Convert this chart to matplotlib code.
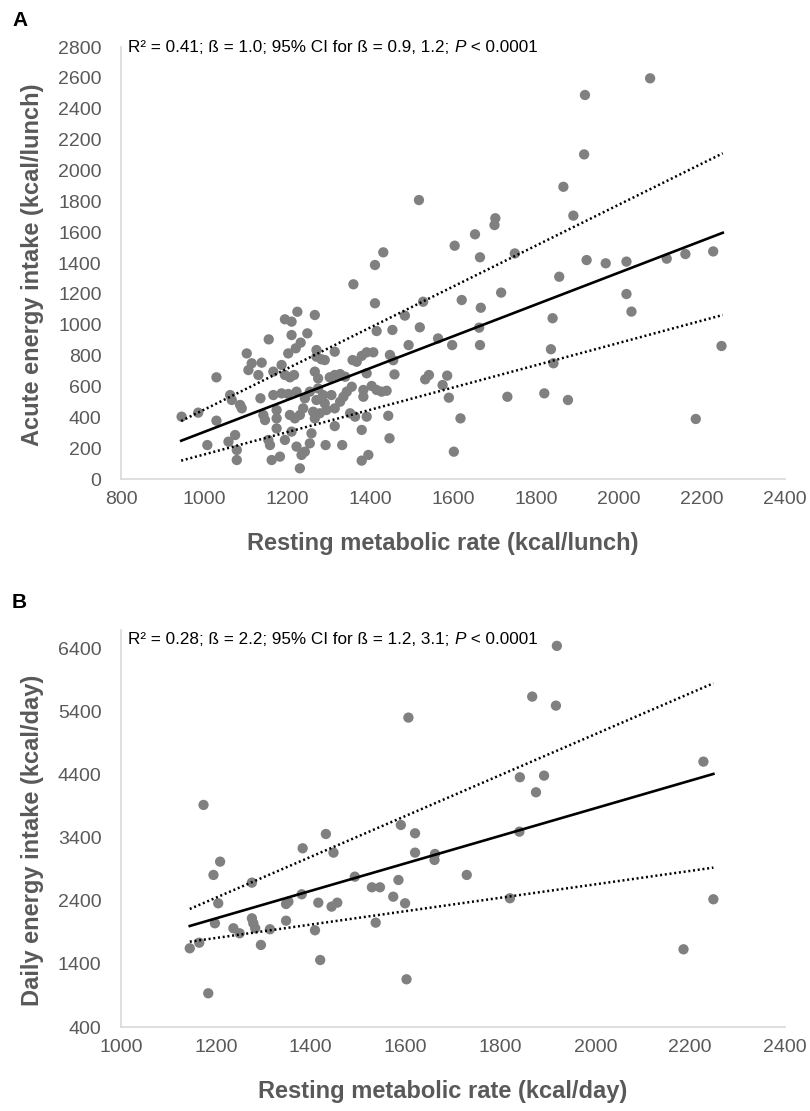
import matplotlib
matplotlib.use('Agg')
import matplotlib.pyplot as plt

plt.rcParams['font.family'] = ['Liberation Sans', 'DejaVu Sans']

# Panel A: resting metabolic rate vs acute energy intake (kcal/lunch)
rmr_lunch = [
    2075, 1918, 1916, 1866, 1890, 1702, 1700, 1653, 1604, 1665, 1749, 1922, 1968, 2018, 2115, 2160,
    2227, 1856, 1621, 1716, 1667, 2018, 2030, 1840, 1663, 1598, 1665, 1836, 1842, 1586, 1575, 1590,
    1731, 1820, 1877, 1618, 2185, 2247, 1602, 1518, 1432, 1412, 1360, 1412, 1528, 1484, 1520, 1454,
    1416, 1564, 1493, 1448, 1456, 1408, 1392, 1380, 1459, 1542, 1533, 1444, 1447, 1396, 1380,
    946, 986, 1030, 1030, 1008, 1063, 1067, 1087, 1091, 1059, 1075, 1079, 1079, 1103, 1115, 1139,
    1107, 1131, 1156, 1195, 1211, 1225, 1267, 1211, 1249, 1233, 1221, 1203, 1167, 1187, 1195, 1207,
    1217, 1136, 1167, 1187, 1203, 1143, 1147, 1175, 1175, 1175, 1155, 1159, 1163, 1183, 1195, 1211,
    1231, 1223, 1243, 1255, 1259, 1235, 1207, 1219, 1231, 1239, 1243, 1223, 1255, 1271, 1271, 1283,
    1291, 1315, 1267, 1275, 1275, 1271, 1263, 1279, 1267, 1291, 1307, 1287, 1295, 1315, 1328, 1336,
    1344, 1356, 1303, 1315, 1328, 1340, 1315, 1293, 1333, 1352, 1364, 1380, 1384, 1384, 1392, 1404,
    1416, 1428, 1440, 1358, 1368, 1392,
]
intake_lunch = [
    2597, 2489, 2104, 1894, 1707, 1690, 1646, 1586, 1512, 1437, 1462, 1419, 1398, 1409, 1428, 1458,
    1475, 1311, 1160, 1208, 1110, 1199, 1085, 1042, 981, 868, 868, 841, 750, 670, 609, 527,
    533, 555, 512, 393, 389, 862, 177, 1808, 1469, 1387, 1262, 1139, 1149, 1059, 983, 966,
    959, 911, 868, 804, 770, 821, 821, 798, 678, 674, 646, 410, 264, 156, 119,
    404, 430, 659, 378, 220, 544, 512, 480, 458, 242, 285, 188, 123, 814, 750, 754,
    706, 674, 905, 1035, 1020, 1084, 1063, 933, 944, 884, 847, 814, 696, 739, 674, 659,
    674, 523, 544, 555, 551, 415, 382, 447, 393, 328, 253, 220, 123, 145, 253, 307,
    69, 210, 177, 231, 296, 156, 415, 393, 415, 458, 523, 566, 566, 793, 836, 776,
    771, 825, 696, 652, 587, 512, 436, 426, 393, 490, 544, 544, 447, 458, 501, 533,
    566, 598, 659, 674, 680, 663, 343, 220, 220, 426, 404, 318, 577, 533, 404, 603,
    577, 566, 572, 771, 760, 685,
]
fit_a_x = [945, 2250]
fit_a_y = [248, 1596]
ci_a_upper = [376, 2111]
ci_a_lower = [119, 1063]

# Panel B: resting metabolic rate vs daily energy intake (kcal/day)
rmr_day = [
    1145, 1165, 1174, 1184, 1195, 1198, 1205, 1209, 1237, 1250, 1276, 1276, 1279, 1283, 1295, 1314,
    1348, 1348, 1353, 1381, 1383, 1409, 1416, 1420, 1432, 1444, 1448, 1456, 1493, 1529, 1537, 1546,
    1574, 1585, 1590, 1599, 1602, 1606, 1620, 1620, 1661, 1662, 1729, 1820, 1840, 1841, 1867, 1875,
    1892, 1917, 1919, 2186, 2228, 2249,
]
intake_day = [
    1649, 1738, 3924, 935, 2813, 2046, 2363, 3024, 1967, 1887, 2691, 2125, 2046, 1967, 1702, 1951,
    2087, 2352, 2389, 2506, 3236, 1935, 2373, 1463, 3463, 2310, 3167, 2373, 2786, 2617, 2056, 2617,
    2468, 2733, 3606, 2363, 1157, 5310, 3474, 3167, 3051, 3146, 2813, 2443, 3500, 4363, 5643, 4125,
    4389, 5500, 6448, 1633, 4611, 2427,
]
fit_b_x = [1145, 2249]
fit_b_y = [2003, 4416]
ci_b_upper = [2273, 5855]
ci_b_lower = [1754, 2929]

DOT_GREY = '#808080'
TEXT_GREY = '#595959'
AXIS_GREY = '#d9d9d9'


def style_axes(ax):
    for side in ['top', 'right']:
        ax.spines[side].set_visible(False)
    for side in ['left', 'bottom']:
        ax.spines[side].set_color(AXIS_GREY)
        ax.spines[side].set_linewidth(1.2)
    ax.tick_params(axis='both', length=0, labelsize=14, labelcolor=TEXT_GREY)
    ax.tick_params(axis='y', pad=14)
    ax.tick_params(axis='x', pad=9)


def draw_panel(ax, x, y, fx, fy, up, lo):
    ax.scatter(x, y, s=55, color=DOT_GREY, edgecolors='none', zorder=2, clip_on=False)
    ax.plot(fx, fy, color='black', linewidth=1.9, zorder=3)
    ax.plot(fx, up, color='black', linewidth=1.8, linestyle=(0, (0.8, 1.1)), zorder=3)
    ax.plot(fx, lo, color='black', linewidth=1.8, linestyle=(0, (0.8, 1.1)), zorder=3)


def stats_text(ax, y, first):
    t1 = ax.text(0.011, y, first, transform=ax.transAxes, fontsize=12.3,
                 color='black', va='center', ha='left')
    t2 = ax.annotate('P', xy=(1, 0), xycoords=t1, fontsize=12.3, style='italic',
                     va='bottom', ha='left')
    ax.annotate(' < 0.0001', xy=(1, 0), xycoords=t2, fontsize=12.3,
                va='bottom', ha='left')


fig = plt.figure(figsize=(8.1, 11.11), dpi=100)

axA = fig.add_axes([121 / 810, 1 - 479 / 1111, 664 / 810, 432 / 1111])
draw_panel(axA, rmr_lunch, intake_lunch, fit_a_x, fit_a_y, ci_a_upper, ci_a_lower)
axA.set_xlim(800, 2400)
axA.set_ylim(0, 2800)
axA.set_xticks(range(800, 2401, 200))
axA.set_yticks(range(0, 2801, 200))
style_axes(axA)
axA.set_xlabel('Resting metabolic rate (kcal/lunch)', fontsize=17, fontweight='bold',
               color=TEXT_GREY)
axA.xaxis.set_label_coords(0.485, -0.123)
axA.set_ylabel('Acute energy intake (kcal/lunch)', fontsize=17, fontweight='bold',
               color=TEXT_GREY)
axA.yaxis.set_label_coords(-0.116, 0.495)
stats_text(axA, 1.0, 'R² = 0.41; ß = 1.0; 95% CI for ß = 0.9, 1.2; ')

axB = fig.add_axes([121 / 810, 1 - 1027 / 1111, 664 / 810, 397 / 1111])
draw_panel(axB, rmr_day, intake_day, fit_b_x, fit_b_y, ci_b_upper, ci_b_lower)
axB.set_xlim(1000, 2400)
axB.set_ylim(400, 6700)
axB.set_xticks(range(1000, 2401, 200))
axB.set_yticks(range(400, 6401, 1000))
style_axes(axB)
axB.set_xlabel('Resting metabolic rate (kcal/day)', fontsize=17, fontweight='bold',
               color=TEXT_GREY)
axB.xaxis.set_label_coords(0.485, -0.134)
axB.set_ylabel('Daily energy intake (kcal/day)', fontsize=17, fontweight='bold',
               color=TEXT_GREY)
axB.yaxis.set_label_coords(-0.116, 0.47)
stats_text(axB, 0.975, 'R² = 0.28; ß = 2.2; 95% CI for ß = 1.2, 3.1; ')

fig.text(12 / 810, 1 - 20 / 1111, 'A', fontsize=15, fontweight='bold', va='center', ha='left')
fig.text(12 / 810, 1 - 603 / 1111, 'B', fontsize=15, fontweight='bold', va='center', ha='left')

fig.savefig('out.png', dpi=100)
